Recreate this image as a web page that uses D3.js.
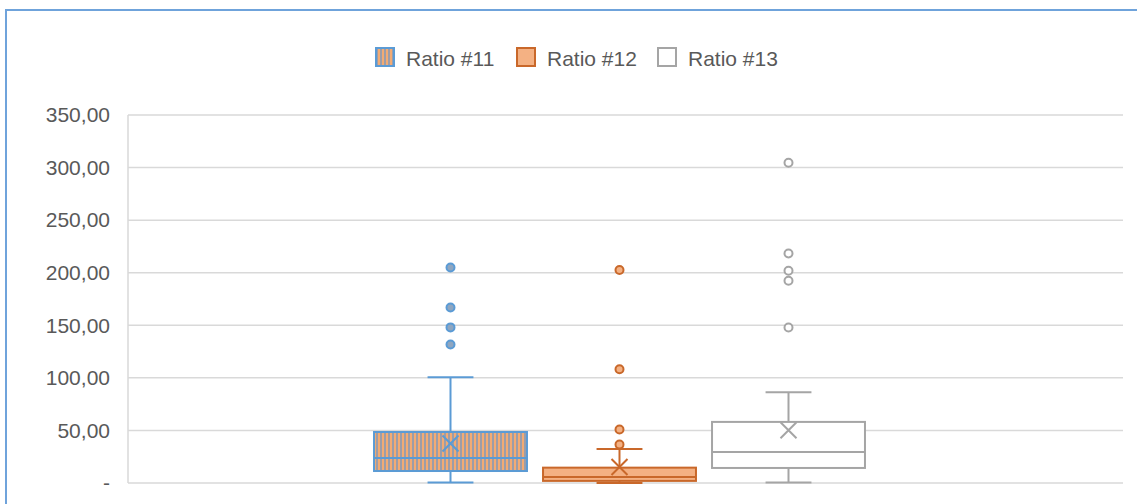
<!DOCTYPE html>
<html>
<head>
<meta charset="utf-8">
<script src="https://cdn.jsdelivr.net/npm/d3@7"></script>
<style>
  body { margin: 0; background: #fff; }
  svg { display: block; font-family: "Liberation Sans", Arial, sans-serif; }
</style>
</head>
<body>
<div id="chart"></div>
<script>
// data
var seriesNames = ["Ratio #11", "Ratio #12", "Ratio #13"];
var whiskerLow = [0.5, 0, 0.4];
var q1 = [11.4, 2.0, 14.3];
var median = [23.8, 5.7, 29.5];
var q3 = [48.5, 14.6, 58.1];
var whiskerHigh = [100.6, 32.4, 86.3];
var means = [37.5, 15.2, 50.2];
var outliers = [
  [131.7, 148, 167, 205],
  [36.5, 50.8, 108.2, 202.5],
  [147.9, 192.3, 201.8, 218.3, 304.6]
];
var yTicks = [0, 50, 100, 150, 200, 250, 300, 350];

var svgWidth = 1137;
var svgHeight = 504;

// plot area
var margin = { top: 115, right: 14, bottom: 21, left: 128 };
var width = svgWidth - margin.left - margin.right;
var height = svgHeight - margin.top - margin.bottom;

var lineColors = ["#5B9BD5", "#C9682A", "#A5A5A5"];
var fillColors = ["url(#stripes)", "#F4B183", "#FFFFFF"];
var dotFills = ["#8FA6C0", "#F4B183", "#FFFFFF"];

var svg = d3.select("#chart")
  .append("svg")
  .attr("width", svgWidth)
  .attr("height", svgHeight);

// vertical stripes pattern for the first series
var pat = svg.append("defs").append("pattern")
  .attr("id", "stripes")
  .attr("patternUnits", "userSpaceOnUse")
  .attr("width", 4)
  .attr("height", 4);
pat.append("rect").attr("width", 4).attr("height", 4).attr("fill", "#F2AB74");
pat.append("rect").attr("width", 2).attr("height", 4).attr("fill", "#9D9DA8");

// outer chart border (only top and left show)
svg.append("rect")
  .attr("x", 6)
  .attr("y", 10)
  .attr("width", svgWidth + 20)
  .attr("height", svgHeight + 20)
  .attr("fill", "none")
  .attr("stroke", "#6FA3DB")
  .attr("stroke-width", 2);

var chartGroup = svg.append("g")
  .attr("transform", `translate(${margin.left}, ${margin.top})`);

var yScale = d3.scaleLinear()
  .domain([0, 350])
  .range([height, 0]);

// series positions inside the single category
var xScale = d3.scaleBand()
  .domain(seriesNames)
  .range([238, 745])
  .paddingInner(0);

var boxW = xScale.bandwidth() * 0.905;
var capW = boxW * 0.3;

// gridlines
chartGroup.append("g")
  .selectAll("line")
  .data(yTicks)
  .enter()
  .append("line")
  .attr("x1", 0)
  .attr("x2", width)
  .attr("y1", d => yScale(d))
  .attr("y2", d => yScale(d))
  .attr("stroke", "#D9D9D9")
  .attr("stroke-width", 1.5);

chartGroup.append("line")
  .attr("x1", 0).attr("x2", 0)
  .attr("y1", yScale(350)).attr("y2", yScale(0))
  .attr("stroke", "#D9D9D9")
  .attr("stroke-width", 1.5);

// y axis labels
var leftAxis = d3.axisLeft(yScale)
  .tickValues(yTicks)
  .tickSize(0)
  .tickPadding(18)
  .tickFormat(d => d === 0 ? "-" : d3.format(".2f")(d).replace(".", ","));

var yAxisG = chartGroup.append("g").call(leftAxis);
yAxisG.select(".domain").remove();
yAxisG.selectAll("text")
  .attr("font-size", "21px")
  .attr("fill", "#595959")
  .attr("font-family", "Liberation Sans, Arial, sans-serif");

// boxes
seriesNames.forEach(function (name, i) {
  var cx = xScale(name) + xScale.bandwidth() / 2;
  var g = chartGroup.append("g");
  var col = lineColors[i];

  // whiskers
  g.append("line")
    .attr("x1", cx).attr("x2", cx)
    .attr("y1", yScale(q3[i])).attr("y2", yScale(whiskerHigh[i]))
    .attr("stroke", col).attr("stroke-width", 2);
  g.append("line")
    .attr("x1", cx).attr("x2", cx)
    .attr("y1", yScale(q1[i])).attr("y2", yScale(whiskerLow[i]))
    .attr("stroke", col).attr("stroke-width", 2);
  [whiskerHigh[i], whiskerLow[i]].forEach(function (v) {
    g.append("line")
      .attr("x1", cx - capW / 2).attr("x2", cx + capW / 2)
      .attr("y1", yScale(v)).attr("y2", yScale(v))
      .attr("stroke", col).attr("stroke-width", 2);
  });

  // box
  g.append("rect")
    .attr("x", cx - boxW / 2)
    .attr("y", yScale(q3[i]))
    .attr("width", boxW)
    .attr("height", yScale(q1[i]) - yScale(q3[i]))
    .attr("fill", fillColors[i])
    .attr("stroke", col)
    .attr("stroke-width", 2);

  // median
  g.append("line")
    .attr("x1", cx - boxW / 2).attr("x2", cx + boxW / 2)
    .attr("y1", yScale(median[i])).attr("y2", yScale(median[i]))
    .attr("stroke", col).attr("stroke-width", 2);

  // mean marker
  var my = yScale(means[i]);
  var s = 8;
  g.append("path")
    .attr("d", `M${cx - s},${my - s}L${cx + s},${my + s}M${cx - s},${my + s}L${cx + s},${my - s}`)
    .attr("stroke", col)
    .attr("stroke-width", 2)
    .attr("fill", "none");

  // outliers
  g.selectAll("circle")
    .data(outliers[i])
    .enter()
    .append("circle")
    .attr("cx", cx)
    .attr("cy", d => yScale(d))
    .attr("r", 4)
    .attr("fill", dotFills[i])
    .attr("stroke", col)
    .attr("stroke-width", 2);
});

// legend
var legendX = [375, 516, 657];
var legend = svg.append("g");
seriesNames.forEach(function (name, i) {
  legend.append("rect")
    .attr("x", legendX[i] + 1)
    .attr("y", 48)
    .attr("width", 18)
    .attr("height", 18)
    .attr("fill", fillColors[i])
    .attr("stroke", lineColors[i])
    .attr("stroke-width", 2);
  legend.append("text")
    .attr("x", legendX[i] + 31)
    .attr("y", 66)
    .attr("font-size", "21px")
    .attr("fill", "#595959")
    .text(name);
});
</script>
</body>
</html>
